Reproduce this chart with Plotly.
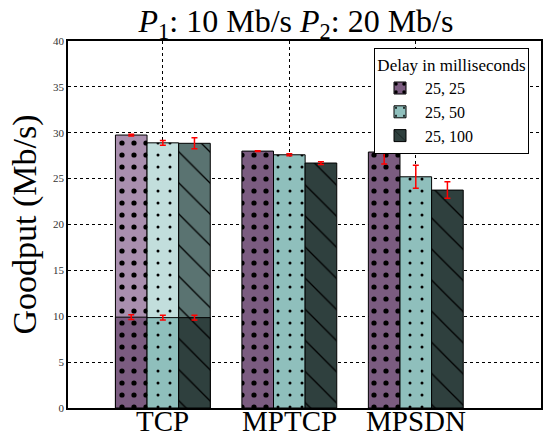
import plotly.graph_objects as go

categories = ["TCP", "MPTCP", "MPSDN"]
series_names = ["25, 25", "25, 50", "25, 100"]
# total goodput per series (top of bar)
goodput_25_25 = [29.75, 28.0, 27.9]
goodput_25_50 = [28.9, 27.6, 25.2]
goodput_25_100 = [28.85, 26.7, 23.75]
err_25_25 = [0.1, 0.05, 1.3]
err_25_50 = [0.25, 0.1, 1.25]
err_25_100 = [0.6, 0.15, 0.9]
# TCP lower segment (per-path contribution)
tcp_low = [9.9, 9.85, 9.85]
tcp_low_err = [0.25, 0.25, 0.25]

values = [goodput_25_25, goodput_25_50, goodput_25_100]
errors = [err_25_25, err_25_50, err_25_100]

full_colors = ["#7b5c80", "#8fbfbc", "#2f403e"]
light_colors = ["#a98fae", "#c2dedc", "#5a7371"]
pat_shape = [".", ".", "\\"]
pat_size = [12, 12, 22]
pat_solid = [0.15, 0.05, 0.06]
offsets = [-0.375, -0.125, 0.125]
W = 0.25


def pattern(i, color):
    return dict(shape=pat_shape[i], size=pat_size[i], solidity=pat_solid[i],
                fgcolor="#000000", bgcolor=color, fgopacity=1, fillmode="overlay")


def err(arr):
    return dict(type="data", array=arr, color="red", thickness=1.5, width=3)


fig = go.Figure()
for i in range(3):
    # TCP total (lighter upper part)
    fig.add_trace(go.Bar(
        x=categories[:1], y=values[i][:1], width=W, offset=offsets[i],
        marker=dict(color=light_colors[i], line=dict(color="black", width=1),
                    pattern=pattern(i, light_colors[i])),
        error_y=err(errors[i][:1]), showlegend=False, name=series_names[i]))
    # MPTCP / MPSDN bars
    fig.add_trace(go.Bar(
        x=categories[1:], y=values[i][1:], width=W, offset=offsets[i],
        marker=dict(color=full_colors[i], line=dict(color="black", width=1),
                    pattern=pattern(i, full_colors[i])),
        error_y=err(errors[i][1:]), showlegend=False, name=series_names[i]))
for i in range(3):
    fig.add_trace(go.Bar(
        x=categories[:1], y=[tcp_low[i]], width=W, offset=offsets[i],
        marker=dict(color=full_colors[i], line=dict(color="black", width=1),
                    pattern=pattern(i, full_colors[i])),
        error_y=err([tcp_low_err[i]]), showlegend=True, name=series_names[i]))

serif = "Liberation Serif, Times New Roman, serif"
annotations = [dict(text="Goodput (Mb/s)", textangle=-90, xref="paper", yref="paper",
                    x=(24 - 68) / 473, y=0.5, xanchor="center", yanchor="middle",
                    showarrow=False, font=dict(family=serif, size=34, color="black"))]
for c in categories:
    annotations.append(dict(text=c, x=c, xref="x", y=0, yref="paper", yanchor="top",
                            xanchor="center", yshift=5, showarrow=False,
                            font=dict(family=serif, size=29, color="black")))

fig.update_layout(
    width=543, height=437,
    margin=dict(l=68, r=2, t=41, b=29),
    barmode="overlay",
    plot_bgcolor="white", paper_bgcolor="white",
    font=dict(family=serif, color="black"),
    title=dict(text="<i>P</i><sub>1</sub>: 10 Mb/s <i>P</i><sub>2</sub>: 20 Mb/s",
               x=296 / 543, xref="container", xanchor="center",
               y=1 - 21 / 437, yref="container", yanchor="middle",
               font=dict(family=serif, size=32, color="black")),
    xaxis=dict(range=[-0.75, 2.99], categoryorder="array", categoryarray=categories,
               showgrid=True, gridcolor="black", griddash="dot", gridwidth=1,
               showline=True, linecolor="black", linewidth=1.5, mirror=True,
               showticklabels=False, ticks="", automargin=False),
    yaxis=dict(range=[0, 40], dtick=5, showgrid=True, gridcolor="black", griddash="dot", gridwidth=1,
               showline=True, linecolor="black", linewidth=1.5, mirror=True, zeroline=False,
               tickfont=dict(family=serif, size=11, color="#333333"), ticks="", automargin=False),
    legend=dict(x=(374 - 68) / 473, y=(408 - 48) / 367, xanchor="left", yanchor="top",
                bgcolor="white", bordercolor="black", borderwidth=1,
                title=dict(text="Delay in milliseconds", side="top center",
                           font=dict(family=serif, size=17, color="black")),
                font=dict(family=serif, size=16, color="black"),
                tracegroupgap=0, itemwidth=40),
    annotations=annotations,
)

fig.write_html("out.html", post_script="document.body.style.margin='0';",
               config={"displayModeBar": False})
